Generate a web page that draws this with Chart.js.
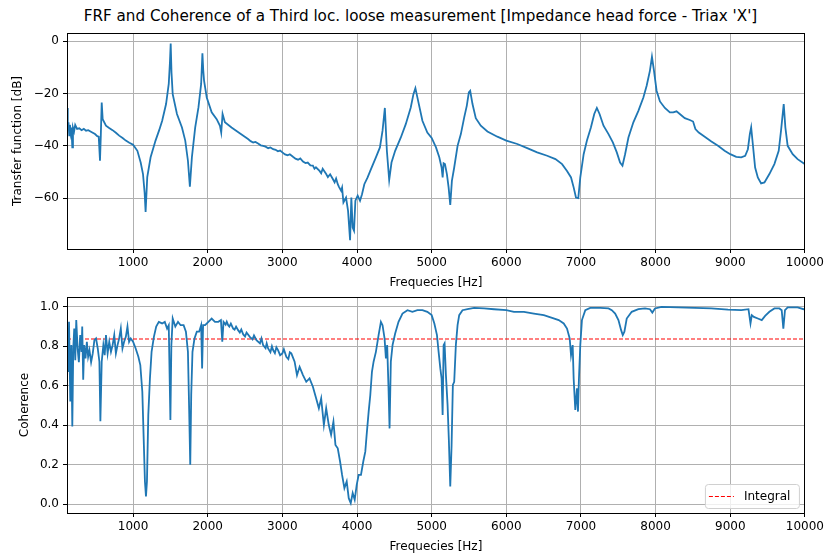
<!DOCTYPE html>
<html>
<head>
<meta charset="utf-8">
<script src="https://cdn.jsdelivr.net/npm/chart.js@4/dist/chart.umd.min.js"></script>
<style>
  html, body { margin: 0; padding: 0; background: #fff; }
  #wrap { position: relative; width: 827px; height: 554px; overflow: hidden; }
  #title { position: absolute; left: 7px; top: 7px; width: 827px; text-align: center;
           font-family: "DejaVu Sans", sans-serif; font-size: 15.2px; color: #000; }
  canvas { position: absolute; left: 0; }
  #frf { top: 0; }
  #coh { top: 277px; }
</style>
</head>
<body>
<div id="wrap">
  <div id="title">FRF and Coherence of a Third loc. loose measurement [Impedance head force - Triax 'X']</div>
  <canvas id="frf" width="827" height="294"></canvas>
  <canvas id="coh" width="827" height="277"></canvas>
</div>
<script>
// transfer function magnitude, dB (ten per line, freq and value lines match)
const frfFreq = [
  115, 125, 135, 145, 155, 165, 175, 186, 195, 210,
  225, 250, 280, 310, 340, 370, 400, 430, 460, 490,
  520, 540, 557, 568, 580, 593, 637, 680, 725, 770,
  814, 860, 903, 950, 1000, 1058, 1102, 1133, 1155, 1168,
  1180, 1190, 1235, 1301, 1350, 1390, 1442, 1478, 1494, 1504,
  1515, 1531, 1588, 1655, 1699, 1735, 1761, 1788, 1832, 1876,
  1912, 1929, 1940, 1951, 1987, 2053, 2120, 2164, 2181, 2199,
  2230, 2319, 2429, 2540, 2575, 2609, 2640, 2680, 2710, 2742,
  2775, 2810, 2840, 2876, 2910, 2940, 2970, 3000, 3035, 3070,
  3100, 3142, 3175, 3210, 3240, 3276, 3310, 3340, 3375, 3409,
  3430, 3450, 3498, 3520, 3540, 3587, 3610, 3640, 3676, 3700,
  3720, 3742, 3760, 3787, 3800, 3818, 3853, 3880, 3907, 3924,
  3942, 3960, 3978, 4009, 4040, 4067, 4098, 4142, 4187, 4253,
  4307, 4342, 4373, 4400, 4431, 4462, 4511, 4587, 4653, 4720,
  4756, 4782, 4818, 4876, 4942, 5000, 5058, 5102, 5133, 5147,
  5160, 5178, 5204, 5227, 5249, 5271, 5302, 5347, 5391, 5436,
  5471, 5498, 5516, 5547, 5591, 5658, 5747, 5880, 6000, 6147,
  6280, 6413, 6547, 6658, 6747, 6813, 6867, 6902, 6933, 6964,
  6991, 7036, 7080, 7133, 7178, 7213, 7249, 7302, 7369, 7427,
  7480, 7524, 7556, 7591, 7636, 7702, 7769, 7836, 7880, 7924,
  7951, 7978, 8013, 8058, 8124, 8191, 8236, 8280, 8324, 8391,
  8458, 8502, 8533, 8578, 8658, 8747, 8836, 8924, 9000, 9080,
  9147, 9200, 9236, 9262, 9280, 9302, 9333, 9369, 9413, 9458,
  9524, 9591, 9649, 9680, 9698, 9716, 9738, 9769, 9836, 9902,
  9982, 10000];
const frfDb = [
  -25.5, -34, -31, -36, -32, -35, -33, -40.6, -33, -34.5,
  -32, -33.5, -33.3, -34, -33.5, -34.2, -34, -34.5, -35, -35.5,
  -36.3, -36.5, -45.7, -36, -23.4, -29.8, -32.3, -33.2, -34, -35,
  -36.1, -37, -38, -38.8, -39.6, -41.9, -46.4, -50.8, -58, -65.3,
  -58, -52, -44.4, -38, -34, -30.4, -24, -16.3, -8, -0.8,
  -12, -20.2, -27.8, -33, -38, -45.7, -55.6, -44.4, -33, -25.3,
  -16.3, -4.6, -11, -15, -21.5, -27.2, -29.8, -32.3, -34.9, -27.8,
  -31, -33, -35.2, -37.4, -38.2, -38.7, -38.5, -39.2, -39.8, -40,
  -40.3, -40.9, -40.6, -41.3, -41.5, -42.1, -41.8, -42.5, -43.3, -43.6,
  -43.2, -44.2, -44.9, -45.3, -44.8, -46, -46.6, -46.4, -47.5, -47.6,
  -48.8, -48.2, -49.6, -50.5, -48.8, -50.8, -52, -50.9, -52.7, -54,
  -52.5, -54.7, -55.8, -57.2, -56, -61.7, -59.8, -64.9, -76.1, -59.8,
  -71.3, -72.5, -61, -59.1, -61, -58.5, -54.7, -52.1, -48.9, -44.4,
  -40.6, -34.2, -25.5, -41.9, -53.1, -46.4, -41.9, -36.8, -31.7, -25.3,
  -20.2, -17.9, -22.7, -30.4, -34.9, -37, -40.6, -44.4, -48.3, -52.1,
  -46.7, -47, -50.8, -55.9, -62.6, -53.4, -48.3, -40, -35.5, -29.1,
  -24.6, -19.5, -18.9, -24, -29.4, -32.3, -34.5, -36.5, -38, -39.3,
  -40.9, -42.5, -43.8, -45.1, -47, -49.6, -52.1, -55.9, -59.8, -60,
  -52.1, -43.2, -38, -33, -27.8, -25.5, -27.8, -32.3, -35.5, -38.7,
  -42.5, -46.4, -47.6, -43.2, -36.8, -31, -26.6, -21.5, -17, -11.2,
  -5.9, -11.2, -18.9, -23, -25.5, -27.2, -27.2, -26.8, -27.8, -29.4,
  -30.1, -30.7, -33.6, -34.9, -36.5, -38.3, -40, -41.9, -43.2, -44.2,
  -44.4, -43.8, -41.3, -35.5, -32.9, -39.3, -48.3, -52.1, -54.4, -54,
  -50.8, -47, -41.9, -34.2, -29.1, -24, -32.9, -40, -43.2, -45.1,
  -46.7, -47];

// coherence (ten per line, freq and value lines match)
const cohFreq = [
  115, 133, 142, 159, 173, 186, 199, 212, 226, 239,
  257, 274, 292, 310, 319, 332, 345, 363, 381, 398,
  416, 438, 460, 482, 504, 527, 549, 562, 580, 602,
  620, 637, 659, 681, 704, 726, 748, 770, 792, 814,
  836, 858, 880, 903, 925, 947, 969, 1000, 1035, 1071,
  1097, 1124, 1142, 1159, 1173, 1186, 1204, 1226, 1248, 1279,
  1310, 1345, 1389, 1425, 1456, 1478, 1500, 1513, 1531, 1566,
  1602, 1637, 1677, 1708, 1735, 1752, 1766, 1779, 1796, 1823,
  1854, 1885, 1912, 1925, 1938, 1965, 2009, 2053, 2097, 2142,
  2177, 2195, 2212, 2240, 2255, 2274, 2290, 2310, 2341, 2360,
  2380, 2407, 2430, 2450, 2476, 2500, 2520, 2564, 2600, 2620,
  2653, 2700, 2720, 2742, 2775, 2790, 2809, 2840, 2860, 2876,
  2900, 2920, 2942, 2970, 3000, 3020, 3053, 3080, 3100, 3120,
  3140, 3164, 3196, 3231, 3276, 3320, 3364, 3409, 3453, 3489,
  3520, 3556, 3587, 3622, 3653, 3684, 3711, 3742, 3773, 3800,
  3831, 3862, 3889, 3916, 3942, 3969, 3996, 4022, 4053, 4084,
  4111, 4129, 4156, 4178, 4200, 4222, 4253, 4289, 4320, 4342,
  4369, 4387, 4404, 4422, 4436, 4453, 4476, 4511, 4556, 4609,
  4676, 4742, 4809, 4876, 4942, 5000, 5036, 5071, 5093, 5116,
  5133, 5147, 5160, 5173, 5191, 5213, 5231, 5249, 5267, 5284,
  5302, 5324, 5347, 5369, 5413, 5480, 5569, 5702, 5836, 6000,
  6102, 6236, 6369, 6502, 6613, 6702, 6769, 6813, 6849, 6867,
  6889, 6902, 6924, 6947, 6960, 6973, 6991, 7013, 7058, 7124,
  7258, 7369, 7413, 7458, 7502, 7538, 7560, 7582, 7613, 7680,
  7769, 7858, 7924, 7956, 7991, 8080, 8302, 8524, 8747, 8969,
  9147, 9244, 9271, 9289, 9316, 9369, 9422, 9467, 9524, 9591,
  9658, 9689, 9711, 9733, 9769, 9902, 9982, 10000];
const cohVal = [
  0.874, 0.67, 0.924, 0.52, 0.806, 0.393, 0.789, 0.89, 0.73, 0.933,
  0.789, 0.72, 0.857, 0.772, 0.9, 0.63, 0.806, 0.739, 0.823, 0.747,
  0.78, 0.72, 0.764, 0.831, 0.84, 0.789, 0.722, 0.42, 0.722, 0.806,
  0.755, 0.857, 0.764, 0.823, 0.772, 0.806, 0.857, 0.764, 0.806, 0.84,
  0.89, 0.789, 0.823, 0.848, 0.9, 0.823, 0.84, 0.823, 0.789, 0.747,
  0.705, 0.57, 0.334, 0.115, 0.039, 0.115, 0.452, 0.637, 0.772, 0.848,
  0.9, 0.924, 0.916, 0.924, 0.89, 0.907, 0.427, 0.806, 0.941, 0.9,
  0.924, 0.907, 0.907, 0.874, 0.772, 0.469, 0.2, 0.553, 0.772, 0.84,
  0.874, 0.874, 0.907, 0.688, 0.907, 0.907, 0.924, 0.941, 0.924, 0.924,
  0.933, 0.823, 0.924, 0.91, 0.925, 0.907, 0.9, 0.915, 0.89, 0.885,
  0.9, 0.882, 0.87, 0.885, 0.86, 0.85, 0.87, 0.848, 0.835, 0.855,
  0.831, 0.815, 0.84, 0.806, 0.79, 0.815, 0.789, 0.77, 0.8, 0.781,
  0.765, 0.795, 0.781, 0.755, 0.764, 0.785, 0.747, 0.735, 0.77, 0.764,
  0.745, 0.722, 0.654, 0.696, 0.654, 0.62, 0.637, 0.595, 0.536, 0.486,
  0.536, 0.401, 0.486, 0.401, 0.351, 0.418, 0.3, 0.283, 0.216, 0.148,
  0.081, 0.115, 0.03, 0.005, 0.056, 0.022, 0.098, 0.148, 0.148, 0.216,
  0.266, 0.351, 0.469, 0.553, 0.671, 0.722, 0.772, 0.857, 0.924, 0.907,
  0.84, 0.739, 0.806, 0.587, 0.384, 0.722, 0.806, 0.865, 0.924, 0.966,
  0.983, 0.975, 0.983, 0.983, 0.975, 0.958, 0.916, 0.857, 0.772, 0.688,
  0.637, 0.452, 0.806, 0.815, 0.654, 0.503, 0.317, 0.089, 0.3, 0.604,
  0.62, 0.806, 0.907, 0.958, 0.983, 0.988, 0.995, 0.992, 0.988, 0.983,
  0.975, 0.975, 0.966, 0.958, 0.944, 0.933, 0.916, 0.89, 0.84, 0.755,
  0.806, 0.637, 0.477, 0.587, 0.469, 0.637, 0.806, 0.933, 0.983, 0.995,
  0.995, 0.992, 0.983, 0.966, 0.933, 0.882, 0.857, 0.874, 0.941, 0.975,
  0.988, 0.992, 0.988, 0.971, 0.992, 1.0, 0.997, 0.995, 0.992, 0.986,
  0.983, 0.988, 0.916, 0.958, 0.949, 0.941, 0.933, 0.954, 0.975, 0.992,
  0.992, 0.983, 0.89, 0.983, 0.997, 0.997, 0.988, 0.99];

const integralCoh = 0.837;

const xTicks = [1000, 2000, 3000, 4000, 5000, 6000, 7000, 8000, 9000, 10000];
const frfTicks = [-60, -40, -20, 0];
const cohTicks = [0.0, 0.2, 0.4, 0.6, 0.8, 1.0];

const BLUE = '#1f77b4';
const FONT = { family: 'DejaVu Sans', size: 12 };

Chart.defaults.font.family = 'DejaVu Sans';
Chart.defaults.color = '#000';

function toPoints(xs, ys) {
  return xs.map((x, i) => ({ x: x, y: ys[i] }));
}

// black box round the plot area
const framePlugin = {
  id: 'frame',
  afterDraw(chart) {
    const a = chart.chartArea, ctx = chart.ctx;
    ctx.save();
    ctx.strokeStyle = '#000';
    ctx.lineWidth = 1;
    ctx.strokeRect(Math.round(a.left) + 0.5, Math.round(a.top) + 0.5,
      Math.round(a.right - a.left) - 1, Math.round(a.bottom - a.top));
    ctx.restore();
  }
};

// small legend box in the lower right corner
const cornerLegend = {
  id: 'cornerLegend',
  afterDraw(chart) {
    const ds = chart.data.datasets[1];
    const a = chart.chartArea, ctx = chart.ctx;
    const w = 94, h = 24;
    const x = a.right - 6 - w, y = a.bottom - 5 - h;
    ctx.save();
    ctx.fillStyle = 'rgba(255,255,255,0.8)';
    ctx.strokeStyle = '#d0d0d0';
    ctx.lineWidth = 1;
    ctx.beginPath();
    ctx.roundRect(x + 0.5, y + 0.5, w, h, 3);
    ctx.fill();
    ctx.stroke();
    ctx.strokeStyle = ds.borderColor;
    ctx.lineWidth = ds.borderWidth;
    ctx.setLineDash(ds.borderDash);
    ctx.beginPath();
    ctx.moveTo(x + 4, y + h / 2 + 0.5);
    ctx.lineTo(x + 29, y + h / 2 + 0.5);
    ctx.stroke();
    ctx.setLineDash([]);
    ctx.fillStyle = '#000';
    ctx.font = '12px "DejaVu Sans"';
    ctx.textBaseline = 'middle';
    ctx.fillText(ds.label, x + 39, y + h / 2 + 1);
    ctx.restore();
  }
};

function xScale(areaBottomGap, titlePad) {
  return {
    type: 'linear',
    min: frfFreq[0],
    max: 10000,
    afterBuildTicks: s => { s.ticks = xTicks.map(v => ({ value: v })); },
    afterFit: s => { s.height = areaBottomGap; },
    ticks: { font: FONT, padding: 3, maxRotation: 0, autoSkip: false, callback: v => String(v) },
    grid: { color: '#b0b0b0', lineWidth: 1, tickColor: '#000', tickLength: 4 },
    border: { display: false },
    title: { display: true, text: 'Frequecies [Hz]', font: FONT, padding: { top: 0, bottom: titlePad } }
  };
}

function yScale(min, max, ticks, fmt, label, titlePad) {
  return {
    type: 'linear',
    min: min,
    max: max,
    afterBuildTicks: s => { s.ticks = ticks.map(v => ({ value: v })); },
    afterFit: s => { s.width = 67; },
    ticks: { font: FONT, padding: 4, callback: fmt },
    grid: { color: '#b0b0b0', lineWidth: 1, tickColor: '#000', tickLength: 4 },
    border: { display: false },
    title: { display: true, text: label, font: FONT, padding: { top: titlePad, bottom: 0 } }
  };
}

const baseOptions = {
  responsive: false,
  animation: false,
  events: [],
  plugins: { legend: { display: false }, tooltip: { enabled: false } },
  elements: { point: { radius: 0 }, line: { tension: 0 } }
};

new Chart(document.getElementById('frf'), {
  type: 'line',
  data: {
    datasets: [{
      label: 'FRF',
      data: toPoints(frfFreq, frfDb),
      borderColor: BLUE,
      borderWidth: 1.8,
      fill: false
    }]
  },
  options: Object.assign({}, baseOptions, {
    layout: { padding: { left: 0, right: 19, top: 33, bottom: 0 } },
    scales: {
      x: xScale(45, 4),
      y: yScale(-79.5, 3.2, frfTicks, v => String(v).replace('-', '\u2212'), 'Transfer function [dB]', 11)
    }
  }),
  plugins: [framePlugin]
});

new Chart(document.getElementById('coh'), {
  type: 'line',
  data: {
    datasets: [{
      label: 'Coherence',
      data: toPoints(cohFreq, cohVal),
      borderColor: BLUE,
      borderWidth: 1.8,
      fill: false
    }, {
      label: 'Integral',
      data: [{ x: frfFreq[0], y: integralCoh }, { x: 10000, y: integralCoh }],
      borderColor: '#ff0000',
      borderWidth: 1.2,
      borderDash: [4, 2],
      fill: false
    }]
  },
  options: Object.assign({}, baseOptions, {
    layout: { padding: { left: 0, right: 19, top: 20, bottom: 0 } },
    scales: {
      x: xScale(41, 0),
      y: yScale(-0.045, 1.05, cohTicks, v => v.toFixed(1), 'Coherence', 18)
    }
  }),
  plugins: [framePlugin, cornerLegend]
});
</script>
</body>
</html>
